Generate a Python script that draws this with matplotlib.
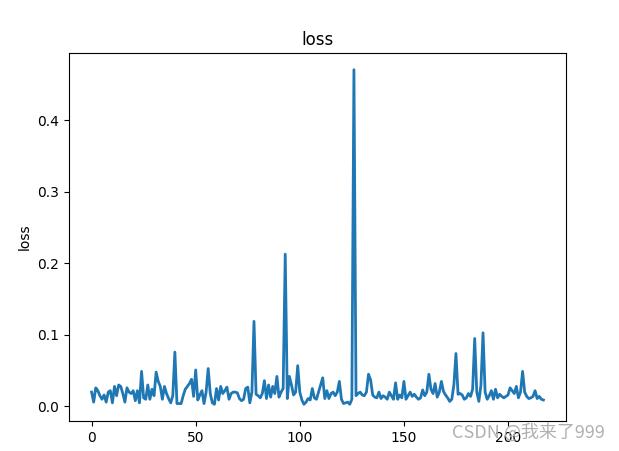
import matplotlib
matplotlib.use("Agg")
import matplotlib.pyplot as plt


# per-step loss values
loss = [
    0.020, 0.006, 0.026, 0.022, 0.015, 0.010, 0.016, 0.006, 0.020, 0.022,
    0.005, 0.028, 0.015, 0.030, 0.028, 0.018, 0.006, 0.026, 0.020, 0.018,
    0.022, 0.008, 0.022, 0.005, 0.049, 0.012, 0.010, 0.030, 0.010, 0.024,
    0.015, 0.048, 0.035, 0.028, 0.010, 0.028, 0.018, 0.011, 0.005, 0.015,
    0.076, 0.004, 0.004, 0.004, 0.015, 0.024, 0.028, 0.032, 0.038, 0.014,
    0.051, 0.009, 0.016, 0.022, 0.004, 0.020, 0.053, 0.018, 0.005, 0.003,
    0.025, 0.009, 0.028, 0.018, 0.022, 0.027, 0.010, 0.018, 0.020, 0.020,
    0.019, 0.011, 0.008, 0.010, 0.025, 0.027, 0.005, 0.020, 0.119, 0.017,
    0.015, 0.012, 0.018, 0.036, 0.011, 0.030, 0.013, 0.028, 0.018, 0.042,
    0.013, 0.020, 0.025, 0.213, 0.011, 0.042, 0.030, 0.016, 0.020, 0.057,
    0.020, 0.009, 0.003, 0.006, 0.011, 0.009, 0.025, 0.012, 0.010, 0.020,
    0.030, 0.040, 0.011, 0.022, 0.011, 0.018, 0.020, 0.015, 0.020, 0.035,
    0.010, 0.004, 0.005, 0.006, 0.003, 0.010, 0.471, 0.015, 0.018, 0.020,
    0.016, 0.015, 0.020, 0.045, 0.037, 0.016, 0.013, 0.012, 0.020, 0.011,
    0.015, 0.013, 0.010, 0.020, 0.015, 0.010, 0.033, 0.010, 0.016, 0.012,
    0.035, 0.010, 0.015, 0.020, 0.014, 0.017, 0.013, 0.010, 0.012, 0.023,
    0.015, 0.020, 0.045, 0.024, 0.018, 0.032, 0.013, 0.020, 0.035, 0.021,
    0.016, 0.012, 0.007, 0.010, 0.030, 0.074, 0.017, 0.018, 0.016, 0.010,
    0.012, 0.018, 0.014, 0.024, 0.095, 0.020, 0.007, 0.030, 0.103, 0.020,
    0.010, 0.015, 0.022, 0.010, 0.024, 0.012, 0.017, 0.014, 0.012, 0.014,
    0.016, 0.026, 0.022, 0.018, 0.028, 0.012, 0.020, 0.049, 0.020, 0.014,
    0.011, 0.012, 0.014, 0.022, 0.011, 0.014, 0.010, 0.009,
]

watermark = "CSDN @我来了999"


def main():
    fig = plt.figure(figsize=(6.19, 4.51), dpi=100)
    ax = fig.add_axes([69 / 619, 30 / 451, 497 / 619, 368 / 451])

    ax.plot(range(len(loss)), loss, color="#1f77b4", linewidth=2)
    ax.set_title("loss")
    ax.set_ylabel("loss")

    # blog watermark in the bottom right corner, it sits over the last tick label
    fig.text(
        0.731, 0.03, watermark,
        fontsize=13, color="#b0b0b0",
        family=["Noto Sans CJK SC", "DejaVu Sans"],
    )

    fig.savefig("out.png", dpi=100)
    plt.close(fig)


if __name__ == "__main__":
    main()
